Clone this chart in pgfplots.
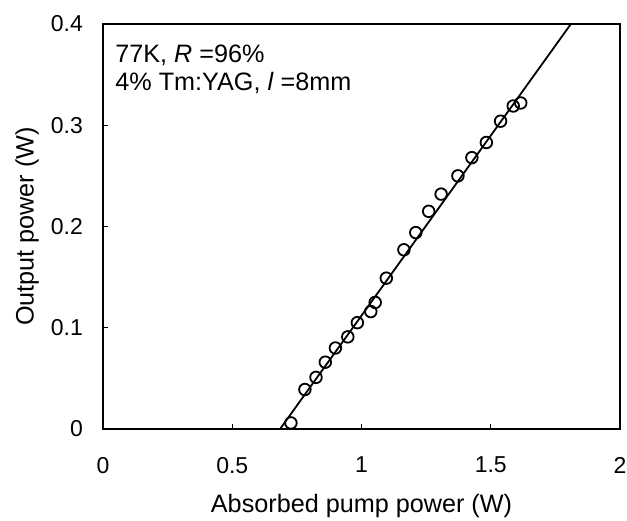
\documentclass[border=0pt]{standalone}
\usepackage{fontspec}
\setmainfont{Liberation Sans}
\usepackage{pgfplots}
\pgfplotsset{compat=1.18}

\begin{document}
\begin{tikzpicture}
  \begin{axis}[
      scale only axis,
      width  = 258.5pt,
      height = 202.5pt,
      xmin = 0, xmax = 2,
      ymin = 0, ymax = 0.4,
      xtick = {0,0.5,1,1.5,2},
      ytick = {0,0.1,0.2,0.3,0.4},
      tick align = inside,
      xtick pos = bottom,
      ytick pos = left,
      major tick length = 2.5pt,
      tick style = {black, line width=0.6pt},
      axis line style = {line width=1.3pt},
      /pgf/number format/assume math mode=true,
      ticklabel style = {font=\fontsize{11.5}{13}\selectfont},
      xticklabel shift = 10.5pt,
      yticklabel shift = 6.5pt,
      label style = {font=\fontsize{12.6}{14}\selectfont},
      xlabel = {Absorbed pump power (W)},
      ylabel = {Output power (W)},
      xlabel style = {at={([yshift=-41.5pt]axis description cs:0.5,0)}, anchor=base},
      ylabel style = {at={([xshift=-38pt]axis description cs:0,0.5)}, anchor=center},
      clip = false,
    ]
    % fitted line
    \addplot[black, line width=0.9pt] coordinates {(0.685,0) (1.81,0.4)};
    % measured points
    \addplot[only marks, mark=o, mark size=2.9pt,
             mark options={fill=white, line width=0.9pt}] coordinates {
      (0.727,0.006) (0.781,0.039) (0.824,0.051) (0.860,0.066) (0.899,0.080)
      (0.947,0.091) (0.984,0.105) (1.036,0.116) (1.053,0.125) (1.096,0.149)
      (1.164,0.177) (1.210,0.194) (1.260,0.215) (1.308,0.232) (1.373,0.250)
      (1.427,0.268) (1.483,0.283) (1.538,0.304) (1.587,0.319) (1.616,0.322)
    };
    \node[anchor=base west, inner sep=0, font=\fontsize{12.6}{14}\selectfont]
      at ([xshift=6pt, yshift=183pt]rel axis cs:0,0) {77K, \textit{R} =96\%};
    \node[anchor=base west, inner sep=0, font=\fontsize{12.6}{14}\selectfont]
      at ([xshift=6pt, yshift=169pt]rel axis cs:0,0) {4\% Tm:YAG, \textit{l} =8mm};
  \end{axis}
  \pgfresetboundingbox
  \path[use as bounding box] (-51.5pt,-45.5pt) rectangle (262pt,214.5pt);
\end{tikzpicture}
\end{document}
